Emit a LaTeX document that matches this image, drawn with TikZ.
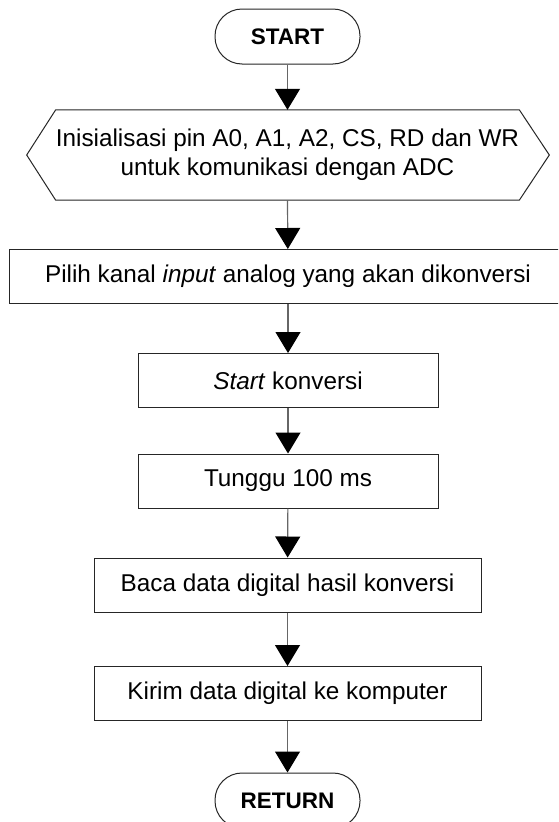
\documentclass[tikz,border=0pt]{standalone}
\usepackage{fontspec}
\setmainfont{Liberation Sans}
\usetikzlibrary{arrows.meta}
\begin{document}
\begin{tikzpicture}[x=1pt,y=-1pt,
  every node/.style={font=\fontsize{24.3}{29}\selectfont, inner sep=0pt, align=center},
  box/.style={draw=black!85, line width=1pt, rectangle, minimum height=54pt},
  term/.style={draw=black!85, line width=1pt, rectangle, rounded corners=27pt, minimum width=145pt, minimum height=55pt, font=\fontsize{22.5}{29}\selectfont\bfseries},
  hexline/.style={draw=black!85, line width=1pt},
  conn/.style={draw=black!60, line width=1.2pt, -{Triangle[width=25pt,length=21pt,color=black]}}
]
\useasboundingbox (0,0) rectangle (558,822);
\clip (0,0) rectangle (558,822);
\fill[white] (0,0) rectangle (558,822);

\node[term] (start) at (287.5,36.5) {START};
\node[minimum width=459pt, minimum height=90pt] (hex) at (287.5,155) {Inisialisasi pin A0, A1, A2, CS, RD dan WR\\untuk komunikasi dengan ADC};
\draw[hexline] (hex.north west) -- (hex.north east) -- ([xshift=30pt]hex.east) -- (hex.south east) -- (hex.south west) -- ([xshift=-29pt]hex.west) -- cycle;
\node[box, minimum width=558pt] (pilih) at (288,276.5) {Pilih kanal \textit{input} analog yang akan dikonversi};
\node[box, minimum width=300pt] (startk) at (288,380.5) {\textit{Start} konversi};
\node[box, minimum width=300pt] (tunggu) at (288,481) {Tunggu 100 ms};
\node[box, minimum width=387pt] (baca) at (287.5,585) {Baca data digital hasil konversi};
\node[box, minimum width=387pt] (kirim) at (287.5,693.5) {Kirim data digital ke komputer};
\node[term] (ret) at (287.5,800.5) {RETURN};

\draw[conn] (start) -- (hex.north);
\draw[conn] (hex.south) -- (pilih);
\draw[conn] (pilih) -- (startk);
\draw[conn] (startk) -- (tunggu);
\draw[conn] (tunggu) -- (baca);
\draw[conn] (baca) -- (kirim);
\draw[conn] (kirim) -- (ret);
\end{tikzpicture}
\end{document}
